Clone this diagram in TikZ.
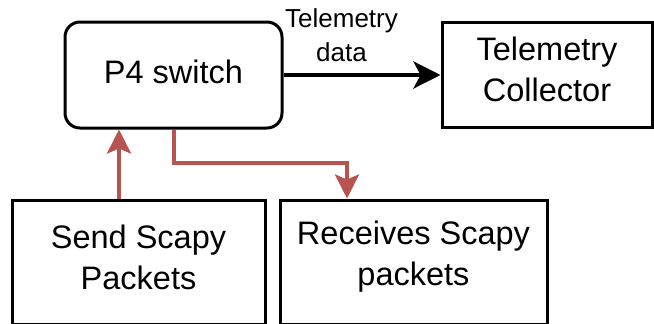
\documentclass[tikz,border=0pt]{standalone}
\usepackage{fontspec}
\setmainfont{Liberation Sans}
\usetikzlibrary{arrows.meta}

\definecolor{linkred}{HTML}{B85450}

\tikzset{
  box/.style={draw=black, line width=3pt, fill=white, inner sep=0pt},
  boxtext/.style={align=center, inner sep=0pt,
    font=\fontsize{32.5}{41}\selectfont},
  flow/.style={line width=4pt, -{Stealth[length=27pt, width=27pt, inset=7pt]}},
  redflow/.style={draw=linkred, line width=4pt,
    -{Stealth[length=24pt, width=24pt, inset=5pt, fill=linkred]}},
  edgelabel/.style={align=center, inner sep=0pt,
    font=\fontsize{26}{34}\selectfont}
}

\begin{document}
\begin{tikzpicture}[x=1pt, y=-1pt]
  \useasboundingbox (0,0) rectangle (654,324);
  \clip (0,0) rectangle (654,324);

  % boxes
  \node[box, rounded corners=15pt, minimum width=217pt, minimum height=106pt]
    (p4) at (173.5,75) {};
  \node[box, minimum width=210pt, minimum height=105pt]
    (coll) at (547,74.5) {};
  \node[box, minimum width=253pt, minimum height=124pt]
    (send) at (138.5,262) {};
  \node[box, minimum width=267pt, minimum height=124pt]
    (recv) at (413.5,262) {};

  % box captions
  \node[boxtext] (p4t) at ([yshift=3.5pt]p4.center) {P4 switch};
  \node[boxtext] (collt) at ([yshift=5pt]coll.center) {Telemetry\\Collector};
  \node[boxtext] (sendt) at ([yshift=5pt]send.center) {Send Scapy\\Packets};
  \node[boxtext] (recvt) at ([yshift=5pt]recv.center) {Receives Scapy\\packets};

  % telemetry export
  \draw[flow] (p4.east) -- (p4.east -| coll.west);
  \node[edgelabel] (lbl) at (341.5,35) {Telemetry\\data};

  % packet paths
  \coordinate (upx) at (119,0);
  \coordinate (bend) at (347,163);
  \draw[redflow] (send.north -| upx) -- (p4.south -| upx);
  \draw[redflow] (p4.south) |- (bend) -- (bend |- recv.north);
\end{tikzpicture}
\end{document}
